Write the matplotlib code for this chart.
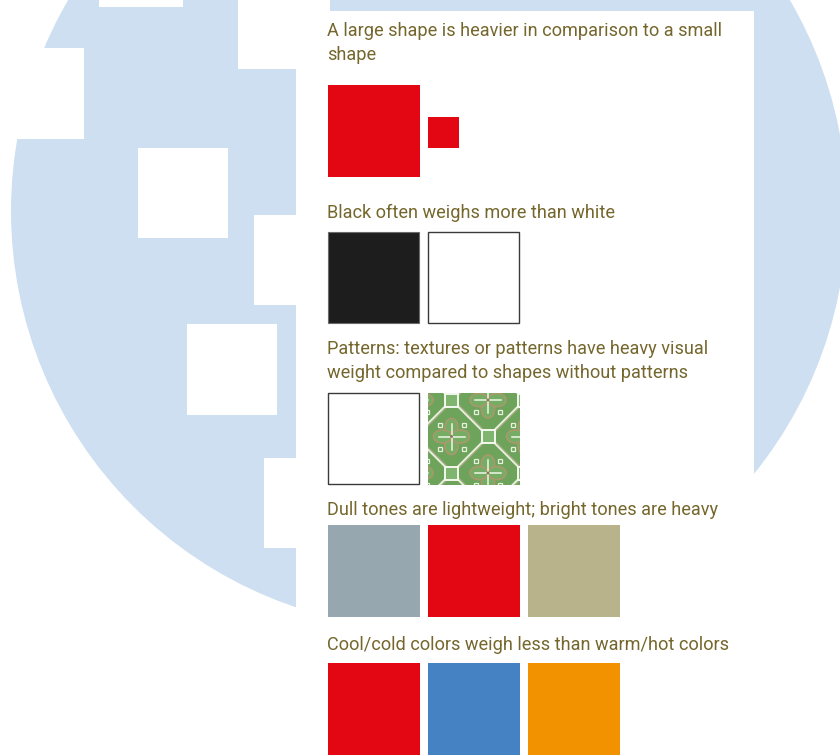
import matplotlib
matplotlib.use("Agg")
import matplotlib.pyplot as plt
import matplotlib.patches as mpatches

plt.rcParams['font.family'] = ['Roboto', 'DejaVu Sans']

# Content
captions = [
    ["A large shape is heavier in comparison to a small", "shape"],
    ["Black often weighs more than white"],
    ["Patterns: textures or patterns have heavy visual",
     "weight compared to shapes without patterns"],
    ["Dull tones are lightweight; bright tones are heavy"],
    ["Cool/cold colors weigh less than warm/hot colors"],
]
row_colors = [
    ["#e30613", "#e30613"],
    ["#1d1d1d", "#ffffff"],
    ["#ffffff", "pattern"],
    ["#97a7af", "#e30613", "#b8b38b"],
    ["#e30613", "#4582c4", "#f39200"],
]
row_scale = [
    [1.0, 0.34],
    [1.0, 1.0],
    [1.0, 1.0],
    [1.0, 1.0, 1.0],
    [1.0, 1.0, 1.0],
]

# Layout
text_color = "#74662c"
caption_base = [36, 218, 354, 515, 650]
line_step = 24
row_top = [85, 232, 393, 525, 663]
left = 327.5
size = 92
step = 100
backdrop = "#cddff0"
cutouts = [(99, -5, 84, 12), (-5, 48, 89, 91), (238, -5, 92, 74),
           (138, 148, 90, 90), (254, 215, 60, 90), (187, 324, 90, 91),
           (264, 458, 60, 90)]

fig = plt.figure(figsize=(8.4, 7.55), dpi=100)
ax = fig.add_axes([0, 0, 1, 1])
ax.set_xlim(0, 840)
ax.set_ylim(755, 0)
ax.axis("off")

# background disc with square holes
ax.add_patch(mpatches.Circle((429, 211), 418, fc=backdrop, ec="none"))
for x, y, w, h in cutouts:
    ax.add_patch(mpatches.Rectangle((x, y), w, h, fc="white", ec="none"))
ax.add_patch(mpatches.Rectangle((296, 11), 458, 760, fc="white", ec="none"))


def draw_pattern(x0, y0, w, h):
    clip = mpatches.Rectangle((x0, y0), w, h, fc="#6ea35c", ec="none")
    ax.add_patch(clip)
    p = 36.5
    ox, oy = x0 + 24, y0 + 7
    arts = []
    rng = range(-3, 5)
    # flowers in the diamonds
    for i in rng:
        for j in rng:
            if (i + j) % 2 == 0:
                continue
            cx, cy = ox + p * i, oy + p * j
            for dx, dy, ew, eh in [(0, -9, 13, 18), (0, 9, 13, 18),
                                   (-9, 0, 18, 13), (9, 0, 18, 13)]:
                arts.append(mpatches.Ellipse((cx + dx, cy + dy), ew, eh,
                                             fc="#76ad64", ec="#a69a6c", lw=1.3))
            for sx in (-1, 1):
                for sy in (-1, 1):
                    arts.append(mpatches.Rectangle((cx + sx * 12 - 2, cy + sy * 12 - 2), 4, 4,
                                                   fc="none", ec="#e8f1dd", lw=0.9))
            arts.append(ax.plot([cx - 13, cx + 13], [cy, cy], color="#eef5e6", lw=1.1)[0])
            arts.append(ax.plot([cx, cx], [cy - 13, cy + 13], color="#eef5e6", lw=1.1)[0])
            arts.append(mpatches.Circle((cx, cy), 1.5, fc="#8a7a55", ec="none", zorder=2.5))
    # diagonal lattice through the nodes
    for k in range(-24, 26, 2):
        c = ox + oy + p * k
        d = ox - oy + p * k
        for off, col, lw in [(0, "#e6efdb", 1.5), (2.4, "#b0a884", 0.7)]:
            arts.append(ax.plot([c - 600 + off, c + 600 + off], [600, -600], color=col, lw=lw)[0])
            arts.append(ax.plot([d - 600 + off, d + 600 + off], [-600, 600], color=col, lw=lw)[0])
    # small tiles on the lattice nodes
    for i in rng:
        for j in rng:
            if (i + j) % 2 == 0:
                cx, cy = ox + p * i, oy + p * j
                arts.append(mpatches.Rectangle((cx - 6.5, cy - 6.5), 13, 13,
                                               fc="#80b56f", ec="#f4f8ee", lw=1.4, zorder=3))
    for a in arts:
        if isinstance(a, mpatches.Patch):
            ax.add_patch(a)
        a.set_clip_path(clip)


for r, lines in enumerate(captions):
    for n, line in enumerate(lines):
        ax.text(left - 0.5, caption_base[r] + n * line_step, line, color=text_color,
                fontsize=13.1, va="baseline", ha="left")
    for c, (col, sc) in enumerate(zip(row_colors[r], row_scale[r])):
        s = size * sc
        x = left + c * step
        y = row_top[r] + (size - s) / 2 + (1.5 if sc < 1 else 0)
        if col == "pattern":
            draw_pattern(x, y, s, s)
        elif col == "#ffffff":
            ax.add_patch(mpatches.Rectangle((x, y), s - 1, s - 1, fc=col, ec="#3a3a3a", lw=1.0))
        elif col == "#1d1d1d":
            ax.add_patch(mpatches.Rectangle((x, y), s - 1, s - 1, fc=col, ec="#6a6a6a", lw=0.8))
        else:
            ax.add_patch(mpatches.Rectangle((x, y), s, s, fc=col, ec="none"))

fig.savefig("out.png", dpi=100)
